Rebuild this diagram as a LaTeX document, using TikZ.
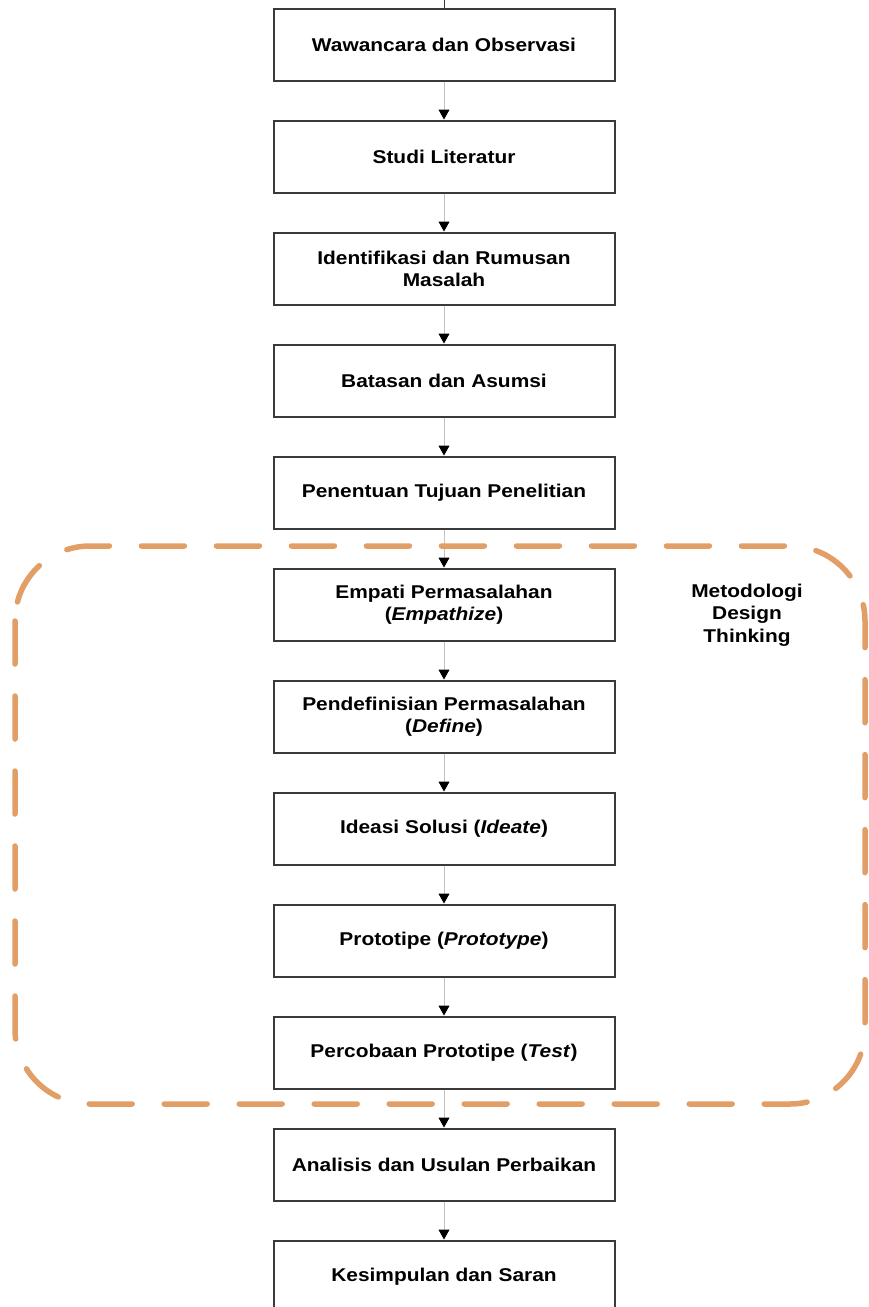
\documentclass[tikz,border=0pt]{standalone}
\usepackage{fontspec}
\setsansfont[FakeStretch=1.13]{Liberation Sans}
\usepackage{tikz}
\usetikzlibrary{arrows.meta}
\definecolor{boxline}{RGB}{58, 58, 58}
\definecolor{flowline}{RGB}{195, 195, 195}
\definecolor{dtorange}{RGB}{225, 158, 102}

\begin{document}
\begin{tikzpicture}[x=1pt, y=-1pt,
		stepbox/.style={draw=boxline, line width=2pt, fill=white,
			minimum width=341pt, minimum height=72pt, align=center,
			font=\sffamily\bfseries\fontsize{18.5}{22}\selectfont},
		flow/.style={draw=flowline, line width=1pt,
			-{Triangle[length=10pt, width=11pt, color=black]}},
		dtframe/.style={draw=dtorange, line width=5.5pt, line cap=round,
			dash pattern=on 43pt off 32pt, rounded corners=75pt}]
			\def\cx{444}
			\def\yo{44.5}
			\def\pitch{112}
			
			\useasboundingbox (0,0) rectangle (868,1307);
			
			\node[stepbox] (b1) at (\cx, \yo+0*\pitch) {Wawancara dan Observasi};
			\node[stepbox] (b2) at (\cx, \yo+1*\pitch) {Studi Literatur};
			\node[stepbox] (b3) at (\cx, \yo+2*\pitch) {Identifikasi dan Rumusan\\Masalah};
			\node[stepbox] (b4) at (\cx, \yo+3*\pitch) {Batasan dan Asumsi};
			\node[stepbox] (b5) at (\cx, \yo+4*\pitch) {Penentuan Tujuan Penelitian};
			\node[stepbox] (b6) at (\cx, \yo+5*\pitch) {Empati Permasalahan\\(\textit{Empathize})};
			\node[stepbox] (b7) at (\cx, \yo+6*\pitch) {Pendefinisian Permasalahan\\(\textit{Define})};
			\node[stepbox] (b8) at (\cx, \yo+7*\pitch) {Ideasi Solusi (\textit{Ideate})};
			\node[stepbox] (b9) at (\cx, \yo+8*\pitch) {Prototipe (\textit{Prototype})};
			\node[stepbox] (b10) at (\cx, \yo+9*\pitch) {Percobaan Prototipe (\textit{Test})};
			\node[stepbox] (b11) at (\cx, \yo+10*\pitch) {Analisis dan Usulan Perbaikan};
			\node[stepbox] (b12) at (\cx, \yo+11*\pitch) {Kesimpulan dan Saran};
			
			% stub coming in from above
			\coordinate (in) at (\cx, 0);
			\draw[boxline, line width=1pt] (in) -- (b1.north);
			
			\foreach \i [evaluate=\i as \j using int(\i+1)] in {1,...,11} {
				\draw[flow] (b\i.south) -- (b\j.north);
			}
			
			% design thinking frame
			\draw[dtframe] (15,546) rectangle (865,1104);
			\node[align=center, font=\sffamily\bfseries\fontsize{18.5}{22.5}\selectfont]
				(dtlabel) at (747, 615) {Metodologi\\Design\\Thinking};
			
		\end{tikzpicture}
\end{document}
